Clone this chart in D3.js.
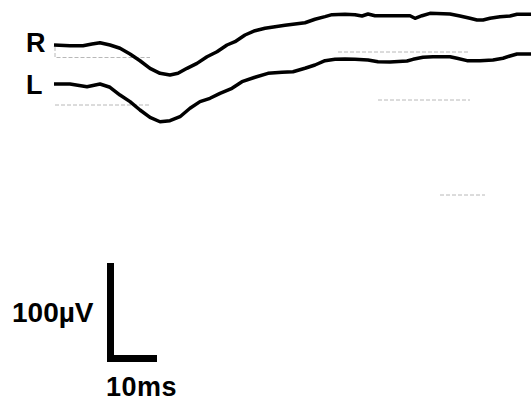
<!DOCTYPE html>
<html>
<head>
<meta charset="utf-8">
<script src="https://cdn.jsdelivr.net/npm/d3@7"></script>
<style>
  body { margin: 0; background: #fff; }
  text { font-family: "Liberation Sans", Arial, sans-serif; font-weight: bold; fill: #000; }
</style>
</head>
<body>
<div id="chart"></div>
<script>
// traces: time in ms, amplitude in microvolts (relative to start)
const rTime = [0, 3.2, 5.8, 7.6, 9.2, 11.2, 13.2, 15.2, 17.2, 19.2, 21.2, 23.2, 24.8, 26.6, 28.6, 30.6, 32.6, 34.6,
    36.2, 38.2, 40.2, 42.2, 44.2, 46.2, 48.2, 50.2, 52.2, 54.2, 55.6, 58.2, 60.2, 61.6, 62.8, 64.2, 66.2, 68.6,
    71.2, 72.2, 73.6, 75.2, 79.2, 81.2, 83.2, 84.6, 85.8, 87.2, 89.2, 91.2, 92.6, 95.4];
const rVolt = [0, -0.7, -0.7, 1.0, 2.4, 0, -3.4, -9.4, -16.4, -24.3, -29.5, -31.3, -29.5, -24.3, -19.1, -12.2, -7.0, 0,
    3.4, 10.4, 14.9, 17.4, 19.1, 20.5, 21.9, 23.2, 26.8, 29.5, 31.6, 32.0, 31.6, 30.2, 32.3, 30.5, 30.5, 30.5,
    30.5, 27.8, 30.5, 33.0, 32.3, 30.2, 27.8, 26.0, 26.0, 27.8, 29.5, 30.2, 32.0, 32.0];

const lTime = [0, 3.2, 6.6, 9.2, 11.2, 13.2, 15.2, 17.2, 19.2, 21.2, 23.2, 25.2, 27.2, 29.2, 31.2, 33.2, 35.6,
    37.6, 40.2, 42.8, 45.6, 47.8, 50.2, 52.2, 54.2, 56.2, 58.2, 60.2, 62.8, 64.8, 67.2, 70.6, 71.8, 73.8, 75.8,
    79.2, 80.6, 82.6, 85.2, 87.8, 89.8, 91.2, 92.6, 95.4];
const lVolt = [0, 0, -2.8, 0, -3.4, -11.5, -18.4, -27.1, -34.7, -39.3, -38.2, -34.1, -25.3, -18.4, -14.9, -9.7, -4.5,
    2.4, 7.0, 11.1, 12.2, 12.8, 16.4, 19.8, 24.3, 25.7, 26.0, 25.7, 25.0, 23.2, 22.9, 24.0, 25.7, 27.8, 28.4,
    28.4, 26.8, 24.3, 24.3, 25.0, 26.8, 29.2, 31.3, 31.3];

const traceLabels = ["R", "L"];
const barVolt = 100;   // µV
const barTime = 10;    // ms
const barLabels = ["100\u00b5V", "10ms"];

const width = 531, height = 402;

const svg = d3.select("#chart").append("svg")
    .attr("width", width)
    .attr("height", height);

// 5 px per ms, 0.96 px per µV
const x = d3.scaleLinear().domain([0, 95.4]).range([54, 531]);
const y = d3.scaleLinear().domain([-100, 100]).range([96, -96]);

// faint baselines / scan marks
const faint = svg.append("g")
    .attr("stroke", "#b8b8b8")
    .attr("stroke-width", 1)
    .attr("stroke-dasharray", "4,2")
    .attr("fill", "none");
faint.append("path").attr("d", "M55,47V57.5H150");
faint.append("line").attr("x1", 55).attr("x2", 150).attr("y1", 105).attr("y2", 105);
faint.append("line").attr("x1", 338).attr("x2", 470).attr("y1", 52).attr("y2", 52);
faint.append("line").attr("x1", 378).attr("x2", 470).attr("y1", 100).attr("y2", 100);
faint.append("line").attr("x1", 440).attr("x2", 485).attr("y1", 195).attr("y2", 195);

const line = d3.line()
    .x(d => x(d[0]))
    .y(d => y(d[1]));

const traces = [
    {label: traceLabels[0], base: 45, pts: d3.zip(rTime, rVolt), ly: 52},
    {label: traceLabels[1], base: 84, pts: d3.zip(lTime, lVolt), ly: 94}
];

traces.forEach(t => {
    const g = svg.append("g").attr("transform", `translate(0,${t.base})`);
    g.append("path")
        .datum(t.pts)
        .attr("d", line)
        .attr("fill", "none")
        .attr("stroke", "#000")
        .attr("stroke-width", 3.5)
        .attr("stroke-linejoin", "round");

    svg.append("text")
        .attr("x", 26)
        .attr("y", t.ly)
        .attr("font-size", 27)
        .text(t.label);
});

// calibration bar
const bar = svg.append("g");
const barX = 107, barBottom = 362, thick = 7;
const vLen = y(0) - y(barVolt);
const hLen = x(barTime) - x(0);
bar.append("rect")
    .attr("x", barX).attr("y", barBottom - vLen - 3)
    .attr("width", thick).attr("height", vLen + 3);
bar.append("rect")
    .attr("x", barX).attr("y", barBottom - thick)
    .attr("width", hLen).attr("height", thick);

svg.append("text")
    .attr("x", 12)
    .attr("y", 322)
    .attr("font-size", 28)
    .text(barLabels[0]);

svg.append("text")
    .attr("x", 106)
    .attr("y", 396)
    .attr("font-size", 27)
    .attr("letter-spacing", 0.5)
    .text(barLabels[1]);
</script>
</body>
</html>
